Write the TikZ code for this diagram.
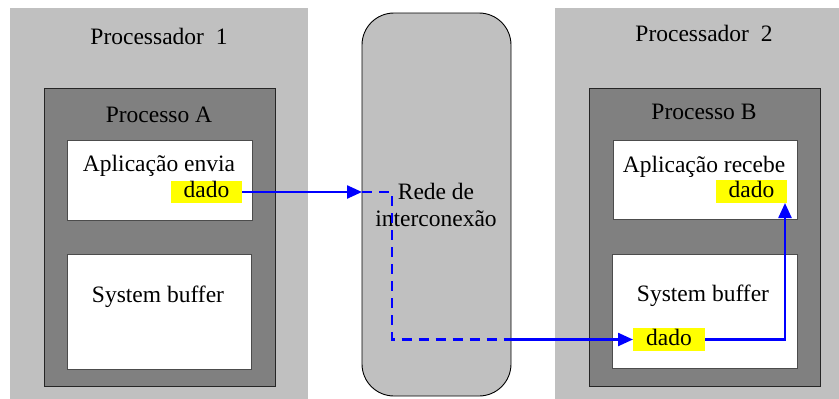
\documentclass[tikz,border=0pt]{standalone}
\usepackage{fontspec}
\setmainfont{Liberation Serif}
\usetikzlibrary{arrows.meta}
\definecolor{lightgr}{HTML}{C0C0C0}
\definecolor{darkgr}{HTML}{808080}
\definecolor{datayellow}{HTML}{FFFF00}
\tikzset{
  box/.style={draw=none, inner sep=0pt, outer sep=0pt},
  proc/.style={box, fill=lightgr},
  process/.style={box, fill=darkgr, draw=black!85, line width=0.9pt},
  inner/.style={box, fill=white, draw=black!70, line width=0.9pt},
  netbox/.style={box, fill=lightgr, draw=black, line width=0.9pt, rounded corners=32pt},
  datum/.style={box, fill=datayellow, text height=15pt, text depth=4pt},
  lbl/.style={inner sep=0pt, font=\fontsize{23.5}{27}\selectfont, align=center},
  flow/.style={draw=blue, line width=2.4pt},
  tip/.style={-{Triangle[length=15pt,width=13pt]}},
  flowdash/.style={flow, dash pattern=on 10pt off 7pt}
}
\begin{document}
\begin{tikzpicture}[x=1pt, y=-1pt, font=\fontsize{23.5}{27}\selectfont]
\useasboundingbox (0,0) rectangle (839,399);
% processors
\node[proc, minimum width=298pt, minimum height=395pt] (p1) at (159,205.5) {};
\node[proc, minimum width=290pt, minimum height=395pt] (p2) at (700,205.5) {};
\node[lbl] (p1l) at (159,36) {Processador\ \ 1};
\node[lbl] (p2l) at (704,33) {Processador\ \ 2};
% processes
\node[process, minimum width=231pt, minimum height=298pt] (pa) at (159.5,237) {};
\node[process, minimum width=231pt, minimum height=298pt] (pb) at (704.5,237) {};
\node[lbl] (pal) at (159,115) {Processo A};
\node[lbl] (pbl) at (704,112) {Processo B};
% application and buffer boxes
\node[inner, minimum width=185pt, minimum height=80pt] (appa) at (159.5,180) {};
\node[inner, minimum width=184pt, minimum height=115pt] (bufa) at (159,311.5) {};
\node[inner, minimum width=184pt, minimum height=79pt] (appb) at (705,179.5) {};
\node[inner, minimum width=185pt, minimum height=114pt] (bufb) at (704.5,311) {};
\node[lbl] (appal) at (159,166) {Aplicação envia};
\node[lbl] (bufal) at (158,297) {System buffer};
\node[lbl] (appbl) at (704,167) {Aplicação recebe};
\node[lbl] (bufbl) at (703,296) {System buffer};
% data items
\node[datum, minimum width=71pt, minimum height=22pt] (da) at (206.5,192) {dado};
\node[datum, minimum width=71pt, minimum height=23pt] (dbt) at (751.5,191.5) {dado};
\node[datum, minimum width=72pt, minimum height=23pt] (dbb) at (669,339.5) {dado};
% interconnection network
\node[netbox, minimum width=149pt, minimum height=383pt] (net) at (436.5,204.5) {};
\node[lbl] (netl) at (436,204.5) {Rede de\\interconexão};
% message path
\coordinate (c1) at (392,192);
\coordinate (c2) at (392,339.5);
\coordinate (c3) at (785,339.5);
\draw[flow, tip] (da.east) -- (da.east -| net.west);
\draw[flowdash] (da.east -| net.west) -- (c1) -- (c2) -- (c2 -| net.east);
\draw[flow, tip] (c2 -| net.east) -- (dbb.west);
\draw[flow, tip] (dbb.east) -- (c3) -- (c3 |- dbt.south);
\end{tikzpicture}
\end{document}
